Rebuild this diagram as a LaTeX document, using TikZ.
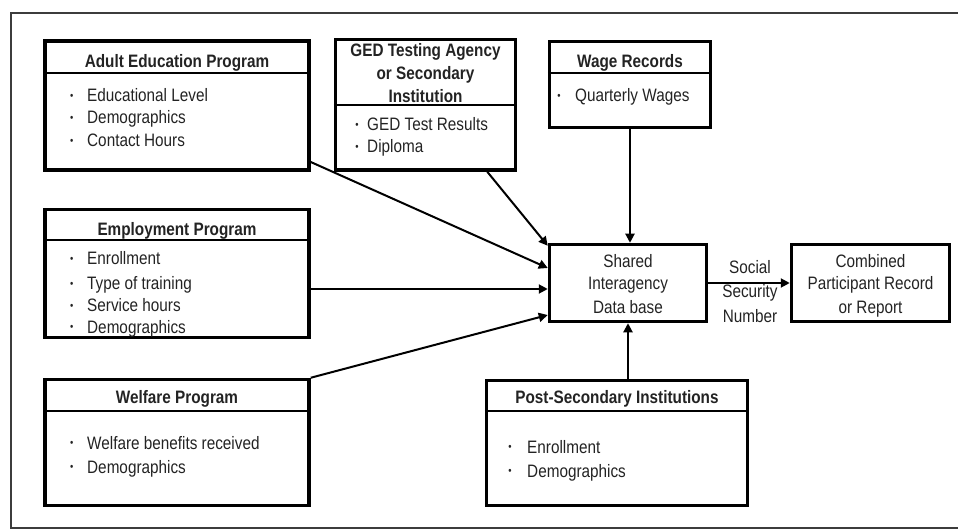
\documentclass[tikz,border=0pt]{standalone}
\usepackage{fontspec}
\setmainfont{Liberation Sans}[FakeStretch=0.85]
\usetikzlibrary{arrows.meta}
\definecolor{txt}{RGB}{35,35,35}
\definecolor{frame}{RGB}{60,60,60}
\begin{document}
\begin{tikzpicture}[x=1pt,y=-1pt,
  box/.style={draw=black, line width=3.5pt, inner sep=0pt, rectangle},
  divider/.style={draw=black, line width=1.5pt},
  ttl/.style={font=\fontsize{18}{20}\selectfont\bfseries, anchor=base, text=txt, inner sep=0pt},
  itm/.style={font=\fontsize{18}{20}\selectfont, anchor=base west, text=txt, inner sep=0pt},
  ctr/.style={font=\fontsize{18}{20}\selectfont, anchor=base, text=txt, inner sep=0pt},
  bul/.style={font=\fontsize{11}{12}\selectfont, anchor=base, text=txt, inner sep=0pt},
  arr/.style={draw=black, line width=2pt, -{Triangle[length=9pt,width=9pt]}}]
\useasboundingbox (0,0) rectangle (958,529);
% outer frame
\draw[draw=frame, line width=1.3pt] (958,13) -- (11,13) -- (11,528) -- (958,528);

% boxes
\node[box, minimum width=264pt, minimum height=129pt] (adult) at (177,105.5) {};
\node[box, minimum width=180pt, minimum height=130.5pt] (ged) at (425.5,104.75) {};
\node[box, minimum width=161pt, minimum height=86pt] (wage) at (630,84.5) {};
\node[box, minimum width=157pt, minimum height=77pt] (shared) at (628,283) {};
\node[box, minimum width=158pt, minimum height=77pt] (comb) at (870.5,283) {};
\node[box, minimum width=264pt, minimum height=128pt] (emp) at (177,273.5) {};
\node[box, minimum width=264pt, minimum height=126pt] (welf) at (177,442.5) {};
\node[box, minimum width=261pt, minimum height=125pt] (post) at (617,443) {};

% dividers
\draw[divider] (adult.west |- 0,73) -- (adult.east |- 0,73);
\draw[divider] (ged.west |- 0,105) -- (ged.east |- 0,105);
\draw[divider] (wage.west |- 0,73) -- (wage.east |- 0,73);
\draw[divider] (emp.west |- 0,240) -- (emp.east |- 0,240);
\draw[divider] (welf.west |- 0,411) -- (welf.east |- 0,411);
\draw[divider] (post.west |- 0,411) -- (post.east |- 0,411);

% Adult Education
\node[ttl] (adultT) at (177,68) {Adult Education Program};
\node[bul] (ab1) at (71.7,99.5) {•};
\node[itm] (ai1) at (87,102) {Educational Level};
\node[bul] (ab2) at (71.7,121.5) {•};
\node[itm] (ai2) at (87,124) {Demographics};
\node[bul] (ab3) at (71.7,144.5) {•};
\node[itm] (ai3) at (87,147) {Contact Hours};

% GED
\node[ttl] (gedT1) at (425.5,57) {GED Testing Agency};
\node[ttl] (gedT2) at (425.5,80) {or Secondary};
\node[ttl] (gedT3) at (425.5,103) {Institution};
\node[bul] (gb1) at (357,128.5) {•};
\node[itm] (gi1) at (367,131) {GED Test Results};
\node[bul] (gb2) at (357,150.5) {•};
\node[itm] (gi2) at (367,153) {Diploma};

% Wage
\node[ttl] (wageT) at (630,68) {Wage Records};
\node[bul] (wb1) at (559,99.5) {•};
\node[itm] (wi1) at (575,102) {Quarterly Wages};

% Shared
\node[ctr] (sh1) at (628,267.5) {Shared};
\node[ctr] (sh2) at (628,290) {Interagency};
\node[ctr] (sh3) at (628,313) {Data base};

% Combined
\node[ctr] (cb1) at (870.5,267.5) {Combined};
\node[ctr] (cb2) at (870.5,290) {Participant Record};
\node[ctr] (cb3) at (870.5,313) {or Report};

% SSN label
\node[ctr] (ss1) at (750,273) {Social};
\node[ctr] (ss2) at (750,298) {Security};
\node[ctr] (ss3) at (750,322.7) {Number};

% Employment
\node[ttl] (empT) at (177,236) {Employment Program};
\node[bul] (eb1) at (71.7,262.5) {•};
\node[itm] (ei1) at (87,265) {Enrollment};
\node[bul] (eb2) at (71.7,287.5) {•};
\node[itm] (ei2) at (87,290) {Type of training};
\node[bul] (eb3) at (71.7,309.2) {•};
\node[itm] (ei3) at (87,311.7) {Service hours};
\node[bul] (eb4) at (71.7,330.5) {•};
\node[itm] (ei4) at (87,333) {Demographics};

% Welfare
\node[ttl] (welfT) at (177,403) {Welfare Program};
\node[bul] (fb1) at (71.7,446.5) {•};
\node[itm] (fi1) at (87,449) {Welfare benefits received};
\node[bul] (fb2) at (71.7,470.5) {•};
\node[itm] (fi2) at (87,473) {Demographics};

% Post-Secondary
\node[ttl] (postT) at (617,403) {Post-Secondary Institutions};
\node[bul] (pb1) at (510,450.5) {•};
\node[itm] (pi1) at (527,453) {Enrollment};
\node[bul] (pb2) at (510,474.5) {•};
\node[itm] (pi2) at (527,477) {Demographics};

% connectors
\coordinate (a1) at ([yshift=9.75pt]adult.south east);
\coordinate (s1) at ([yshift=15pt]shared.west);
\draw[arr] (a1) -- (s1);
\coordinate (g1) at ([xshift=-30pt]ged.south east);
\coordinate (s2) at ([yshift=-3pt]shared.north west);
\draw[arr] (g1) -- (s2);
\draw[arr] (wage.south) -- (wage.south |- shared.north);
\coordinate (e1) at ([yshift=-15.5pt]emp.east);
\draw[arr] (e1) -- (e1 -| shared.west);
\coordinate (s3) at ([yshift=-32pt]shared.west);
\draw[arr] (welf.north east) -- (s3);
\draw[arr] (shared.south |- post.north) -- (shared.south);
\draw[arr] (shared.east) -- (comb.west);
\end{tikzpicture}
\end{document}
